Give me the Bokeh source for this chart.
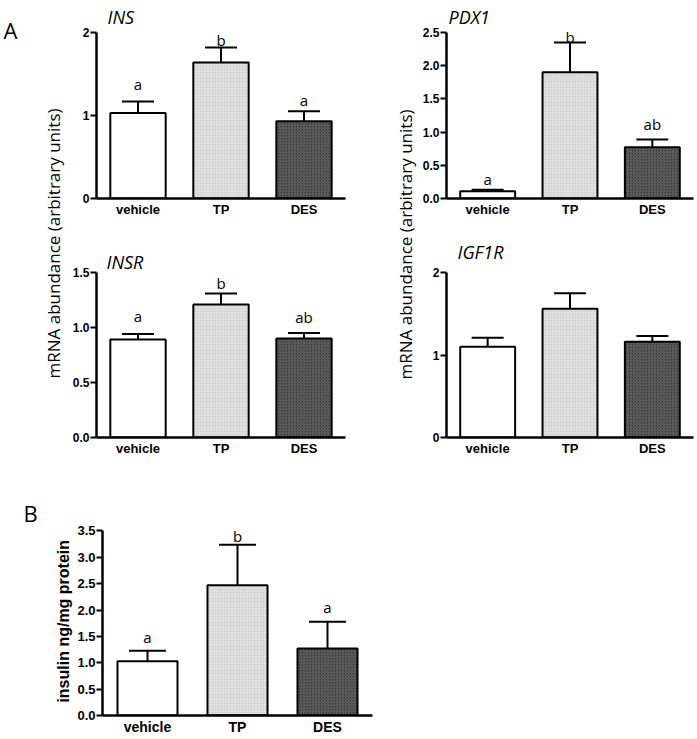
import math
from bokeh.plotting import figure
from bokeh.models import (FactorRange, Range1d, FixedTicker, NumeralTickFormatter,
                          Whisker, TeeHead, Label, ColumnDataSource)
from bokeh.layouts import row, column
from bokeh.embed import file_html
from bokeh.resources import INLINE
from bokeh.core.properties import value

# ---------------- data ----------------
categories = ["vehicle", "TP", "DES"]

ins_mean = [1.03, 1.64, 0.93]
ins_sem = [0.14, 0.18, 0.12]
ins_letters = ["a", "b", "a"]

pdx1_mean = [0.11, 1.90, 0.77]
pdx1_sem = [0.02, 0.45, 0.12]
pdx1_letters = ["a", "b", "ab"]

insr_mean = [0.89, 1.21, 0.90]
insr_sem = [0.05, 0.10, 0.05]
insr_letters = ["a", "b", "ab"]

igf1r_mean = [1.10, 1.56, 1.16]
igf1r_sem = [0.11, 0.19, 0.07]

insulin_mean = [1.03, 2.47, 1.27]
insulin_sem = [0.20, 0.77, 0.51]
insulin_letters = ["a", "b", "a"]

ins_ticks = [0, 1, 2]
pdx1_ticks = [0.0, 0.5, 1.0, 1.5, 2.0, 2.5]
insr_ticks = [0.0, 0.5, 1.0, 1.5]
igf1r_ticks = [0, 1, 2]
insulin_ticks = [0.0, 0.5, 1.0, 1.5, 2.0, 2.5, 3.0, 3.5]

# ---------------- styles ----------------
TEXT_FONT = "Open Sans"
fills = ["#ffffff", "#d6d6d6", "#383838"]
hatches = [" ", "dot", "right_diagonal_line"]
hatch_colors = ["#ffffff", "#f4f4f4", "#6a6a6a"]


def blank(w, h):
    p = figure(width=w, height=h, x_range=Range1d(0, w), y_range=Range1d(0, h),
               toolbar_location=None, output_backend="svg", min_border=0,
               x_axis_location=None, y_axis_location=None)
    p.outline_line_color = None
    p.grid.visible = False
    return p


def panel(w, h, lr, bottom, top_px, mean, sem, ticks, fmt, letters=None, gaps=None,
          title=None, title_pos=(0, 0), cap=32, xfs="13px", yfs="12px"):
    # the frame fills the canvas height down to the x axis; the y axis line
    # is bounded to the tick range so titles/letters above it stay in-frame
    frame_h = h - bottom
    per_unit = (frame_h - top_px) / ticks[-1]
    y_end = frame_h / per_unit
    p = figure(width=w, height=h, x_range=FactorRange(*categories, range_padding=0),
               y_range=Range1d(0, y_end), toolbar_location=None,
               output_backend="svg", min_border_left=lr[0], min_border_right=lr[1],
               min_border_top=0, min_border_bottom=bottom)
    p.outline_line_color = None
    p.grid.visible = False
    top = [m + s for m, s in zip(mean, sem)]
    src = ColumnDataSource(dict(x=categories, m=mean, top=top,
                                fill=fills, hatch=hatches, hc=hatch_colors))
    p.add_layout(Whisker(source=src, base="x", lower="m", upper="top",
                         dimension="height", line_width=2, line_color="black",
                         upper_head=TeeHead(size=cap, line_width=2, line_color="black"),
                         lower_head=None))
    p.vbar(x="x", top="m", width=0.667, source=src, fill_color="fill",
           line_color="black", line_width=2, hatch_pattern="hatch",
           hatch_color="hc", hatch_scale=3, hatch_weight=1)
    if letters:
        lsrc = ColumnDataSource(dict(x=categories, y=top, t=letters,
                                     off=[-g for g in gaps]))
        p.text(x="x", y="y", text="t", source=lsrc, y_offset="off",
               text_align="center", text_baseline="alphabetic",
               text_font=value(TEXT_FONT), text_font_size="15px", text_color="black")
    # axes
    for ax in (p.xaxis[0], p.yaxis[0]):
        ax.axis_line_width = 2.5
        ax.axis_line_color = "black"
        ax.major_label_text_font = "Liberation Sans"
        ax.major_label_text_font_style = "bold"
        ax.major_label_text_color = "black"
        ax.minor_tick_line_color = None
    p.xaxis.major_tick_line_color = None
    p.xaxis.major_tick_out = 0
    p.xaxis.major_tick_in = 0
    p.xaxis.major_label_standoff = 3
    p.xaxis.major_label_text_font_size = xfs
    p.yaxis.bounds = (0, ticks[-1])
    p.yaxis.ticker = FixedTicker(ticks=ticks)
    p.yaxis.formatter = NumeralTickFormatter(format=fmt)
    p.yaxis.major_tick_out = 6
    p.yaxis.major_tick_in = 0
    p.yaxis.major_tick_line_width = 2
    p.yaxis.major_tick_line_color = "black"
    p.yaxis.major_label_standoff = 1
    p.yaxis.major_label_text_font_size = yfs
    if title:
        p.add_layout(Label(x=title_pos[0], y=title_pos[1], x_units="screen",
                           y_units="screen", text=title, text_font=TEXT_FONT,
                           text_font_style="italic", text_font_size="18px",
                           text_color="black", text_baseline="alphabetic"))
    return p


p_ins = panel(287, 230, (28, 10), 32, 32, ins_mean, ins_sem, ins_ticks, "0",
              ins_letters, [17, 7, 11], "INS", (11, 182))
p_insr = panel(287, 230, (28, 10), 23, 42, insr_mean, insr_sem, insr_ticks, "0.0",
               insr_letters, [18, 10, 16], "INSR", (10, 176))
p_pdx1 = panel(276, 230, (24, 2), 32, 32, pdx1_mean, pdx1_sem, pdx1_ticks, "0.0",
               pdx1_letters, [11, 5, 15], "PDX1", (2, 182))
p_igf = panel(276, 230, (24, 2), 23, 42, igf1r_mean, igf1r_sem, igf1r_ticks, "0",
              None, None, "IGF1R", (11, 186))
p_b = panel(308, 277, (28, 10), 20, 71, insulin_mean, insulin_sem, insulin_ticks, "0.0",
            insulin_letters, [14, 9, 15], None, (0, 0), cap=37, xfs="14px", yfs="13px")

ylab = "mRNA abundance (arbitrary units)"
lf = blank(68, 460)
lf.add_layout(Label(x=3, y=431, text="A", text_font=TEXT_FONT, text_font_size="22px",
                    text_color="black", text_baseline="alphabetic"))
lf.add_layout(Label(x=53, y=217, text=ylab, angle=math.pi / 2, text_font=TEXT_FONT,
                    text_font_size="17px", text_color="black", text_align="center",
                    text_baseline="middle"))
rf = blank(64, 460)
rf.add_layout(Label(x=50, y=216, text=ylab, angle=math.pi / 2, text_font=TEXT_FONT,
                    text_font_size="17px", text_color="black", text_align="center",
                    text_baseline="middle"))
bf = blank(74, 277)
bf.add_layout(Label(x=23, y=220, text="B", text_font=TEXT_FONT, text_font_size="22px",
                    text_color="black", text_baseline="alphabetic"))
bf.add_layout(Label(x=63, y=14, text="insulin ng/mg protein", angle=math.pi / 2,
                    text_font="Liberation Sans", text_font_style="bold",
                    text_font_size="16px", text_color="black", text_align="left",
                    text_baseline="middle"))

layout = column(
    row(lf, column(p_ins, p_insr), rf, column(p_pdx1, p_igf)),
    row(bf, p_b),
)

open("out.html", "w").write(file_html(layout, INLINE))
